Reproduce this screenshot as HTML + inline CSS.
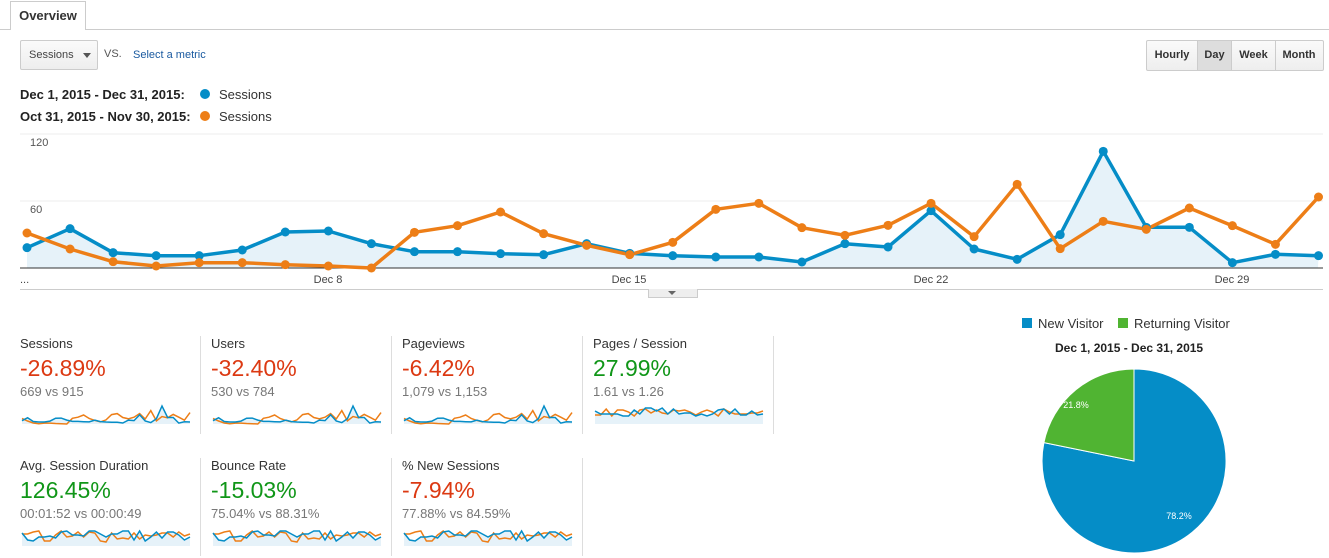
<!DOCTYPE html>
<html><head><meta charset="utf-8"><style>
body{margin:0;width:1329px;height:558px;background:#fff;font-family:"Liberation Sans",Arial,sans-serif;position:relative;overflow:hidden;color:#222}
.a{position:absolute;white-space:nowrap}
.tab{left:10px;top:1px;width:74px;height:28px;border:1px solid #ccc;border-bottom:none;background:#fff;font-size:13px;font-weight:bold;line-height:28px;text-align:center;color:#333}
.btn{border:1px solid #ccc;border-radius:2px;background:linear-gradient(#fafafa,#eee)}
.lbl{font-size:13px;color:#333}
.pct{font-size:23px}
.sub{font-size:13px;color:#777}
.sep{position:absolute;width:1px;background:#ddd}
</style></head><body>
<div class="a" style="left:0;top:29px;width:1329px;height:1px;background:#ccc"></div>
<div class="a tab">Overview</div>
<div class="a btn" style="left:20px;top:40px;width:76px;height:28px;font-size:11px;line-height:28px;color:#444"><span style="margin-left:8px">Sessions</span><span style="position:absolute;left:62px;top:12px;border:4px solid transparent;border-top:5px solid #555;border-bottom:none"></span></div>
<div class="a" style="left:104px;top:48px;font-size:11px;color:#555">VS.</div>
<div class="a" style="left:133px;top:49px;font-size:11px;color:#1a5aa0">Select a metric</div>
<div class="a btn" style="left:1146px;top:40px;width:176px;height:29px;font-size:11px;font-weight:bold;color:#333;line-height:29px">
<span class="a" style="left:0;width:50px;text-align:center">Hourly</span>
<span class="a" style="left:50px;width:35px;height:29px;background:#ddd;text-align:center;border-left:1px solid #ccc;border-right:1px solid #ccc;box-sizing:border-box">Day</span>
<span class="a" style="left:85px;width:43px;text-align:center;border-right:1px solid #ccc;height:29px">Week</span>
<span class="a" style="left:128px;width:48px;text-align:center">Month</span></div>
<div class="a" style="left:20px;top:87px;font-size:13px;font-weight:bold">Dec 1, 2015 - Dec 31, 2015:</div>
<div class="a" style="left:20px;top:109px;font-size:13px;font-weight:bold">Oct 31, 2015 - Nov 30, 2015:</div>
<div class="a" style="left:200px;top:89px;width:10px;height:10px;border-radius:50%;background:#058dc7"></div>
<div class="a" style="left:200px;top:111px;width:10px;height:10px;border-radius:50%;background:#ed7e17"></div>
<div class="a" style="left:219px;top:87px;font-size:13px;color:#333">Sessions</div>
<div class="a" style="left:219px;top:109px;font-size:13px;color:#333">Sessions</div>

<svg class="a" style="left:0;top:0" width="1329" height="300" id="main"></svg>
<div class="a" style="left:20px;top:289px;width:1303px;height:1px;background:#ccc"></div>
<div class="a" style="left:648px;top:289px;width:48px;height:8px;background:#eee;border:1px solid #ccc;border-top:none"></div>
<div class="a" style="left:668px;top:291px;border:4px solid transparent;border-top:4px solid #666;border-bottom:none"></div>

<div id="metrics"></div>

<div class="a" style="left:1022px;top:318px;width:10px;height:10px;background:#058dc7"></div>
<div class="a" style="left:1038px;top:316px;font-size:13px;color:#333">New Visitor</div>
<div class="a" style="left:1118px;top:318px;width:10px;height:10px;background:#50b432"></div>
<div class="a" style="left:1134px;top:316px;font-size:13px;color:#333">Returning Visitor</div>
<div class="a" style="left:1055px;top:341px;font-size:12px;font-weight:bold">Dec 1, 2015 - Dec 31, 2015</div>
<svg class="a" style="left:0;top:0" width="1329" height="558" id="pie"></svg>
<script>
var bz=[353,296,368,377,377,360,306,303,341,365,365,371,374,341,370,377,381,381,396,341,351,242,357,388,314,64,292,292,398,373,377];
var oz=[309,357,395,408,398,398,404,408,414,307,287,246,311,346,374,337,238,220,293,316,286,220,320,163,356,274,298,234,287,343,201];
var s='';
s+='<line x1="20" y1="134" x2="1323" y2="134" stroke="#eee"/><line x1="20" y1="201" x2="1323" y2="201" stroke="#eee"/>';
s+='<text x="30" y="146" font-size="11" fill="#555">120</text><text x="30" y="213" font-size="11" fill="#555">60</text>';
var bp=[],op=[];
for(var i=0;i<31;i++){var x=27+43.05*i;bp.push([x,130+bz[i]/3]);op.push([x,130+oz[i]/3]);}
function pts(a){return a.map(function(p){return p[0].toFixed(1)+','+p[1].toFixed(1)}).join(' ')}
s+='<polygon points="27,268 '+pts(bp)+' 1318,268" fill="#e6f2f9"/>';
s+='<line x1="20" y1="268" x2="1323" y2="268" stroke="#333"/>';
s+='<polyline points="'+pts(bp)+'" fill="none" stroke="#058dc7" stroke-width="3.5" stroke-linejoin="round"/>';
s+='<polyline points="'+pts(op)+'" fill="none" stroke="#ed7e17" stroke-width="3.5" stroke-linejoin="round"/>';
bp.forEach(function(p){s+='<circle cx="'+p[0]+'" cy="'+p[1]+'" r="4.5" fill="#058dc7"/>'});
op.forEach(function(p){s+='<circle cx="'+p[0]+'" cy="'+p[1]+'" r="4.5" fill="#ed7e17"/>'});
[[328,'Dec 8'],[629,'Dec 15'],[931,'Dec 22'],[1232,'Dec 29']].forEach(function(t){s+='<text x="'+t[0]+'" y="283" font-size="11" fill="#444" text-anchor="middle">'+t[1]+'</text>'});
s+='<text x="20" y="283" font-size="11" fill="#444">...</text>';
document.getElementById('main').innerHTML=s;

var M=[[20,336,'Sessions','-26.89%','669 vs 915',0],[211,336,'Users','-32.40%','530 vs 784',0],[402,336,'Pageviews','-6.42%','1,079 vs 1,153',0],[593,336,'Pages / Session','27.99%','1.61 vs 1.26',1],
[20,458,'Avg. Session Duration','126.45%','00:01:52 vs 00:00:49',1],[211,458,'Bounce Rate','-15.03%','75.04% vs 88.31%',1],[402,458,'% New Sessions','-7.94%','77.88% vs 84.59%',0]];
var h='';
M.forEach(function(m,k){
 var x=m[0],y=m[1];
 h+='<div class="a lbl" style="left:'+x+'px;top:'+y+'px">'+m[2]+'</div>';
 h+='<div class="a pct" style="left:'+x+'px;top:'+(y+19)+'px;color:'+(m[5]?'#109618':'#dc3912')+'">'+m[3]+'</div>';
 h+='<div class="a sub" style="left:'+x+'px;top:'+(y+48)+'px">'+m[4]+'</div>';
 var w=168,top=y+68,ht=20;
 var b=[],o=[];
 for(var i=0;i<31;i++){var xx=x+2+i*(w/30);
  var bv=k>=3?(k==3?12-((bz[i]*7)%9):5+((bz[i]*13)%11)):(ht*(bz[i]-40)/(414-40));
  var ov=k>=3?(k==3?12-((oz[i]*5)%8):5+((oz[i]*11)%12)):(ht*(oz[i]-40)/(414-40));
  b.push([xx,top+Math.max(2,Math.min(ht,bv))]);o.push([xx,top+Math.max(2,Math.min(ht,ov))]);}
 h+='<svg class="a" style="left:0;top:0" width="1329" height="558"><polygon points="'+(x+2)+','+(top+ht)+' '+pts(b)+' '+(x+w+2)+','+(top+ht)+'" fill="#e6f2f9"/><polyline points="'+pts(o)+'" fill="none" stroke="#ed7e17" stroke-width="1.5"/><polyline points="'+pts(b)+'" fill="none" stroke="#058dc7" stroke-width="1.5"/></svg>';
});
h+='<div class="sep" style="left:200px;top:336px;height:98px"></div><div class="sep" style="left:391px;top:336px;height:98px"></div><div class="sep" style="left:582px;top:336px;height:98px"></div><div class="sep" style="left:773px;top:336px;height:98px"></div>';
h+='<div class="sep" style="left:200px;top:458px;height:98px"></div><div class="sep" style="left:391px;top:458px;height:98px"></div><div class="sep" style="left:582px;top:458px;height:98px"></div>';
document.getElementById('metrics').innerHTML=h;

var cx=1134,cy=461,r=92,a=-Math.PI/2-0.218*2*Math.PI;
var ex=cx+r*Math.cos(a),ey=cy+r*Math.sin(a);
var p='<path d="M'+cx+','+cy+' L'+cx+','+(cy-r)+' A'+r+','+r+' 0 1,1 '+ex.toFixed(1)+','+ey.toFixed(1)+' Z" fill="#058dc7" stroke="#fff"/>';
p+='<path d="M'+cx+','+cy+' L'+ex.toFixed(1)+','+ey.toFixed(1)+' A'+r+','+r+' 0 0,1 '+cx+','+(cy-r)+' Z" fill="#50b432" stroke="#fff"/>';
p+='<text x="1179" y="519" font-size="9" fill="#fff" text-anchor="middle">78.2%</text><text x="1076" y="408" font-size="9" fill="#fff" text-anchor="middle">21.8%</text>';
document.getElementById('pie').innerHTML=p;
</script>
</body></html>
